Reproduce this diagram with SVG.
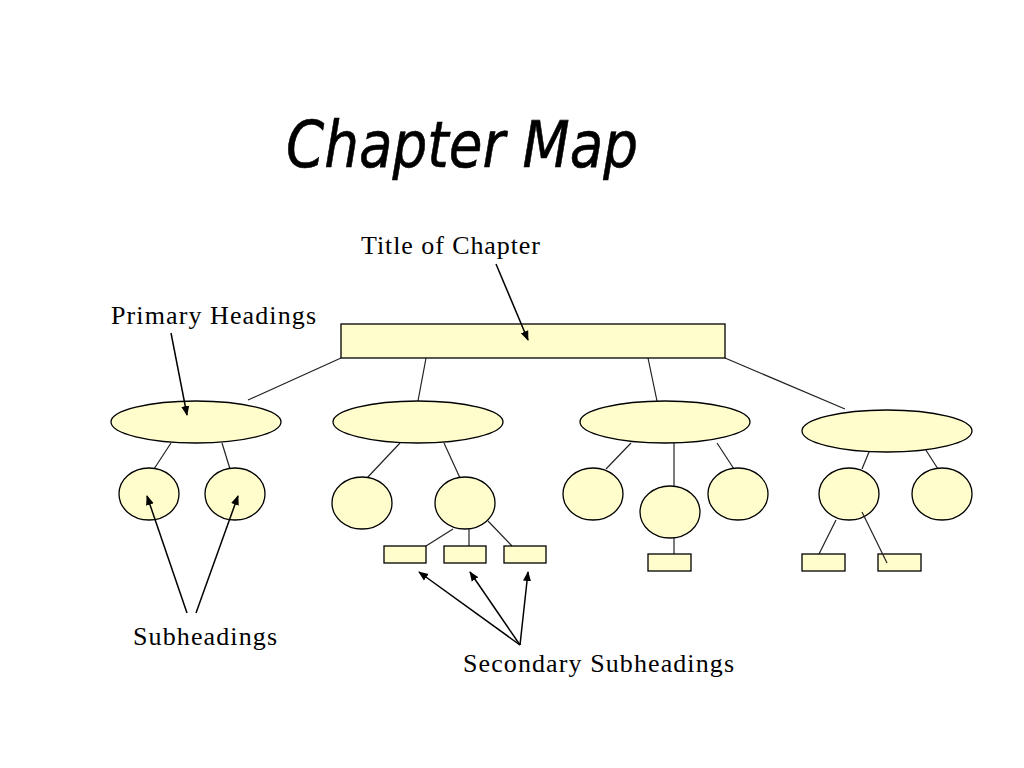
<svg xmlns="http://www.w3.org/2000/svg" width="1024" height="768" viewBox="0 0 1024 768">
<style>
.n{fill:#FFFDCC;stroke:#000;stroke-width:1.3}
.c line{stroke:#222;stroke-width:1.2}
.a line{stroke:#000;stroke-width:1.5;marker-end:url(#ah)}
.t{font-family:"Liberation Serif",serif;font-size:26px;fill:#000}
</style>
<defs><marker id="ah" markerWidth="10" markerHeight="10" refX="9" refY="5" orient="auto" markerUnits="userSpaceOnUse"><path d="M0,1 L10,5 L0,9 z" fill="#000"/></marker></defs>
<rect width="1024" height="768" fill="#fff"/>
<text x="286" y="167" font-family="'DejaVu Sans',sans-serif" font-style="italic" font-size="64" textLength="352" lengthAdjust="spacingAndGlyphs" stroke="#000" stroke-width="0.6">Chapter Map</text>
<g class="c">
<line x1="341" y1="358" x2="248" y2="400"/><line x1="426" y1="358" x2="418" y2="401"/><line x1="648" y1="358" x2="657" y2="401"/><line x1="725" y1="358" x2="845" y2="409"/>
<line x1="171" y1="443" x2="154" y2="469"/><line x1="222" y1="443" x2="230" y2="469"/>
<line x1="400" y1="443" x2="367" y2="478"/><line x1="444" y1="443" x2="460" y2="478"/>
<line x1="453" y1="529" x2="426" y2="546"/><line x1="469" y1="529" x2="469" y2="546"/><line x1="488" y1="521" x2="512" y2="546"/>
<line x1="631" y1="443" x2="606" y2="469"/><line x1="674" y1="443" x2="674" y2="486"/><line x1="717" y1="443" x2="734" y2="469"/><line x1="674" y1="538" x2="674" y2="554"/>
<line x1="869" y1="452" x2="862" y2="469"/><line x1="922" y1="444" x2="938" y2="469"/><line x1="836" y1="520" x2="819" y2="554"/>
</g>
<g id="root"><rect class="n" x="341" y="324" width="384" height="34"/></g>
<g id="p1"><ellipse class="n" cx="196" cy="422" rx="85" ry="21"/></g>
<g id="p2"><ellipse class="n" cx="418" cy="422" rx="85" ry="21"/></g>
<g id="p3"><ellipse class="n" cx="665" cy="422" rx="85" ry="21"/></g>
<g id="p4"><ellipse class="n" cx="887" cy="431" rx="85" ry="21"/></g>
<g id="s1"><ellipse class="n" cx="149" cy="494" rx="30" ry="26"/></g>
<g id="s2"><ellipse class="n" cx="235" cy="494" rx="30" ry="26"/></g>
<g id="s3"><ellipse class="n" cx="362" cy="503" rx="30" ry="26"/></g>
<g id="s4"><ellipse class="n" cx="465" cy="503" rx="30" ry="26"/></g>
<g id="s5"><ellipse class="n" cx="593" cy="494" rx="30" ry="26"/></g>
<g id="s6"><ellipse class="n" cx="670" cy="512" rx="30" ry="26"/></g>
<g id="s7"><ellipse class="n" cx="738" cy="494" rx="30" ry="26"/></g>
<g id="s8"><ellipse class="n" cx="849" cy="494" rx="30" ry="26"/></g>
<g id="s9"><ellipse class="n" cx="942" cy="494" rx="30" ry="26"/></g>
<g id="b1"><rect class="n" x="384" y="546" width="42" height="17"/></g>
<g id="b2"><rect class="n" x="444" y="546" width="42" height="17"/></g>
<g id="b3"><rect class="n" x="504" y="546" width="42" height="17"/></g>
<g id="b4"><rect class="n" x="648" y="554" width="43" height="17"/></g>
<g id="b5"><rect class="n" x="802" y="554" width="43" height="17"/></g>
<g id="b6"><rect class="n" x="878" y="554" width="43" height="17"/></g>
<g class="c"><line x1="862" y1="512" x2="887" y2="563"/></g>
<g class="a">
<line x1="496" y1="264" x2="528" y2="340"/><line x1="171" y1="333" x2="187" y2="415"/>
<line x1="187" y1="613" x2="147" y2="496"/><line x1="196" y1="613" x2="238" y2="496"/>
<line x1="520" y1="645" x2="419" y2="572"/><line x1="520" y1="645" x2="470" y2="572"/><line x1="520" y1="645" x2="528" y2="572"/>
</g>
<text class="t" x="361" y="254" textLength="179">Title of Chapter</text>
<text class="t" x="111" y="324" textLength="205">Primary Headings</text>
<text class="t" x="133" y="645" textLength="144">Subheadings</text>
<text class="t" x="463" y="672" textLength="271">Secondary Subheadings</text>
</svg>
